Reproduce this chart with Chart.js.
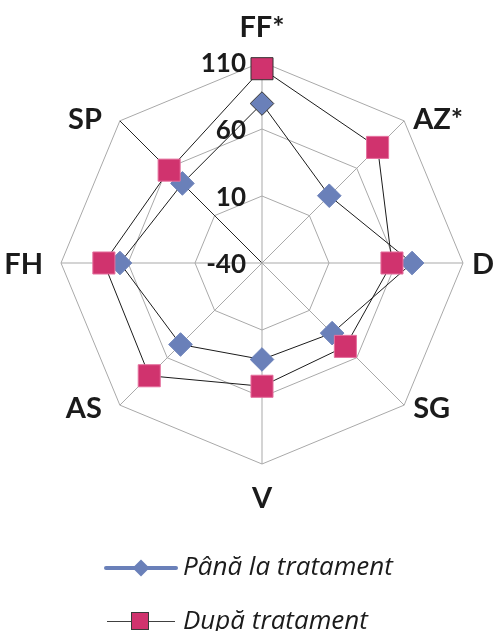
<!DOCTYPE html>
<html>
<head>
<meta charset="utf-8">
<script src="https://cdn.jsdelivr.net/npm/chart.js@4.4.1/dist/chart.umd.min.js"></script>
<style>
  html, body { margin: 0; padding: 0; background: #ffffff; }
  canvas { display: block; }
</style>
</head>
<body>
<canvas id="radar" width="496" height="631"></canvas>
<script>
// Categories around the radar, clockwise from the top
const categories = ['FF*', 'AZ*', 'D', 'SG', 'V', 'AS', 'FH', 'SP'];
// Scores before and after treatment
const panaLaTratament = [79, 31, 72, 34, 32, 46, 66, 44];
const dupaTratament = [105, 82, 57, 48, 52, 79, 78, 58];
// Radial scale ticks
const tickValues = [-40, 10, 60, 110];
const seriesNames = ['Până la tratament', 'După tratament'];

const BLUE = '#6a80b9';
const PINK = '#d0336e';
const INK = '#1b1b1b';
const GRID = '#a9a9a9';

// Text layer: tick labels, category labels and the legend
const radarText = {
  id: 'radarText',
  beforeDatasetsDraw(chart) {
    const s = chart.scales.r;
    const ctx = chart.ctx;
    ctx.save();
    ctx.fillStyle = INK;
    ctx.font = 'bold 26px Lato';
    ctx.textAlign = 'right';
    ctx.textBaseline = 'alphabetic';
    s.ticks.forEach(t => {
      const y = s.yCenter - s.getDistanceFromCenterForValue(t.value);
      ctx.fillText(t.label, s.xCenter - 16, y + 9.5);
    });

    ctx.font = 'bold 29px Lato';
    chart.data.labels.forEach((lab, i) => {
      const p = s.getPointPosition(i, s.drawingArea);
      const dx = p.x - s.xCenter;
      const dy = p.y - s.yCenter;
      let x, y;
      if (Math.abs(dx) < 1) {
        ctx.textAlign = 'center';
        x = p.x;
        y = dy < 0 ? p.y - 36 : p.y + 33;
      } else if (dx > 0) {
        ctx.textAlign = 'left';
        x = p.x + 9;
        y = p.y + (Math.abs(dy) < 1 ? 0 : (dy < 0 ? -2 : 2));
      } else {
        ctx.textAlign = 'right';
        x = p.x - 18;
        y = p.y + (Math.abs(dy) < 1 ? 0 : (dy < 0 ? -2 : 2));
      }
      ctx.fillText(lab, x, y + 10.5);
    });
    ctx.restore();
  },
  afterDraw(chart) {
    const ctx = chart.ctx;
    ctx.save();
    // first entry: thick blue line with a diamond
    ctx.strokeStyle = BLUE;
    ctx.lineWidth = 4;
    ctx.lineCap = 'round';
    ctx.beginPath();
    ctx.moveTo(106, 568);
    ctx.lineTo(176, 568);
    ctx.stroke();
    ctx.fillStyle = BLUE;
    ctx.beginPath();
    ctx.moveTo(141 - 8.5, 568);
    ctx.lineTo(141, 568 - 8.5);
    ctx.lineTo(141 + 8.5, 568);
    ctx.lineTo(141, 568 + 8.5);
    ctx.closePath();
    ctx.fill();

    // second entry: thin dark line with a pink square
    ctx.strokeStyle = '#404040';
    ctx.lineWidth = 1;
    ctx.lineCap = 'butt';
    ctx.beginPath();
    ctx.moveTo(107, 621.5);
    ctx.lineTo(175, 621.5);
    ctx.stroke();
    ctx.fillStyle = PINK;
    ctx.fillRect(131, 612, 18, 18);
    ctx.strokeStyle = '#3a3a3a';
    ctx.strokeRect(131.5, 612.5, 17, 17);

    ctx.fillStyle = INK;
    ctx.font = 'italic 26px "Open Sans"';
    ctx.textAlign = 'left';
    ctx.textBaseline = 'alphabetic';
    ctx.fillText(chart.data.datasets[1].label, 183, 575);
    ctx.fillText(chart.data.datasets[0].label, 183, 629);
    ctx.restore();
  }
};

new Chart(document.getElementById('radar'), {
  type: 'radar',
  data: {
    labels: categories,
    datasets: [
      {
        label: seriesNames[1],
        data: dupaTratament,
        order: 0,
        borderColor: INK,
        borderWidth: 1,
        fill: false,
        pointStyle: 'rect',
        pointRadius: 15.6,
        pointHoverRadius: 15.6,
        pointBackgroundColor: PINK,
        pointBorderColor: dupaTratament.map((v, i) => i === 0 ? '#333333' : '#e5709e'),
        pointBorderWidth: 1,
        clip: false
      },
      {
        label: seriesNames[0],
        data: panaLaTratament,
        order: 1,
        borderColor: INK,
        borderWidth: 1,
        fill: false,
        pointStyle: 'rectRot',
        pointRadius: 11.8,
        pointHoverRadius: 11.8,
        pointBackgroundColor: BLUE,
        pointBorderColor: panaLaTratament.map((v, i) => i === 0 ? '#333333' : BLUE),
        pointBorderWidth: 1,
        clip: false
      }
    ]
  },
  options: {
    responsive: false,
    animation: false,
    devicePixelRatio: 1,
    layout: { padding: { left: 61, right: 33, top: 62, bottom: 167 } },
    elements: { line: { tension: 0 } },
    plugins: {
      legend: { display: false },
      tooltip: { enabled: false }
    },
    scales: {
      r: {
        min: tickValues[0],
        max: tickValues[tickValues.length - 1],
        beginAtZero: false,
        afterBuildTicks(scale) {
          scale.ticks = tickValues.map(v => ({ value: v }));
        },
        ticks: { display: false, stepSize: 50, callback: v => String(v) },
        grid: { color: GRID, lineWidth: 1, circular: false },
        angleLines: {
          display: true,
          color: ctx => ctx.index === 7 ? '#262626' : GRID,
          lineWidth: 1
        },
        pointLabels: { display: false }
      }
    }
  },
  plugins: [radarText]
});
</script>
</body>
</html>
